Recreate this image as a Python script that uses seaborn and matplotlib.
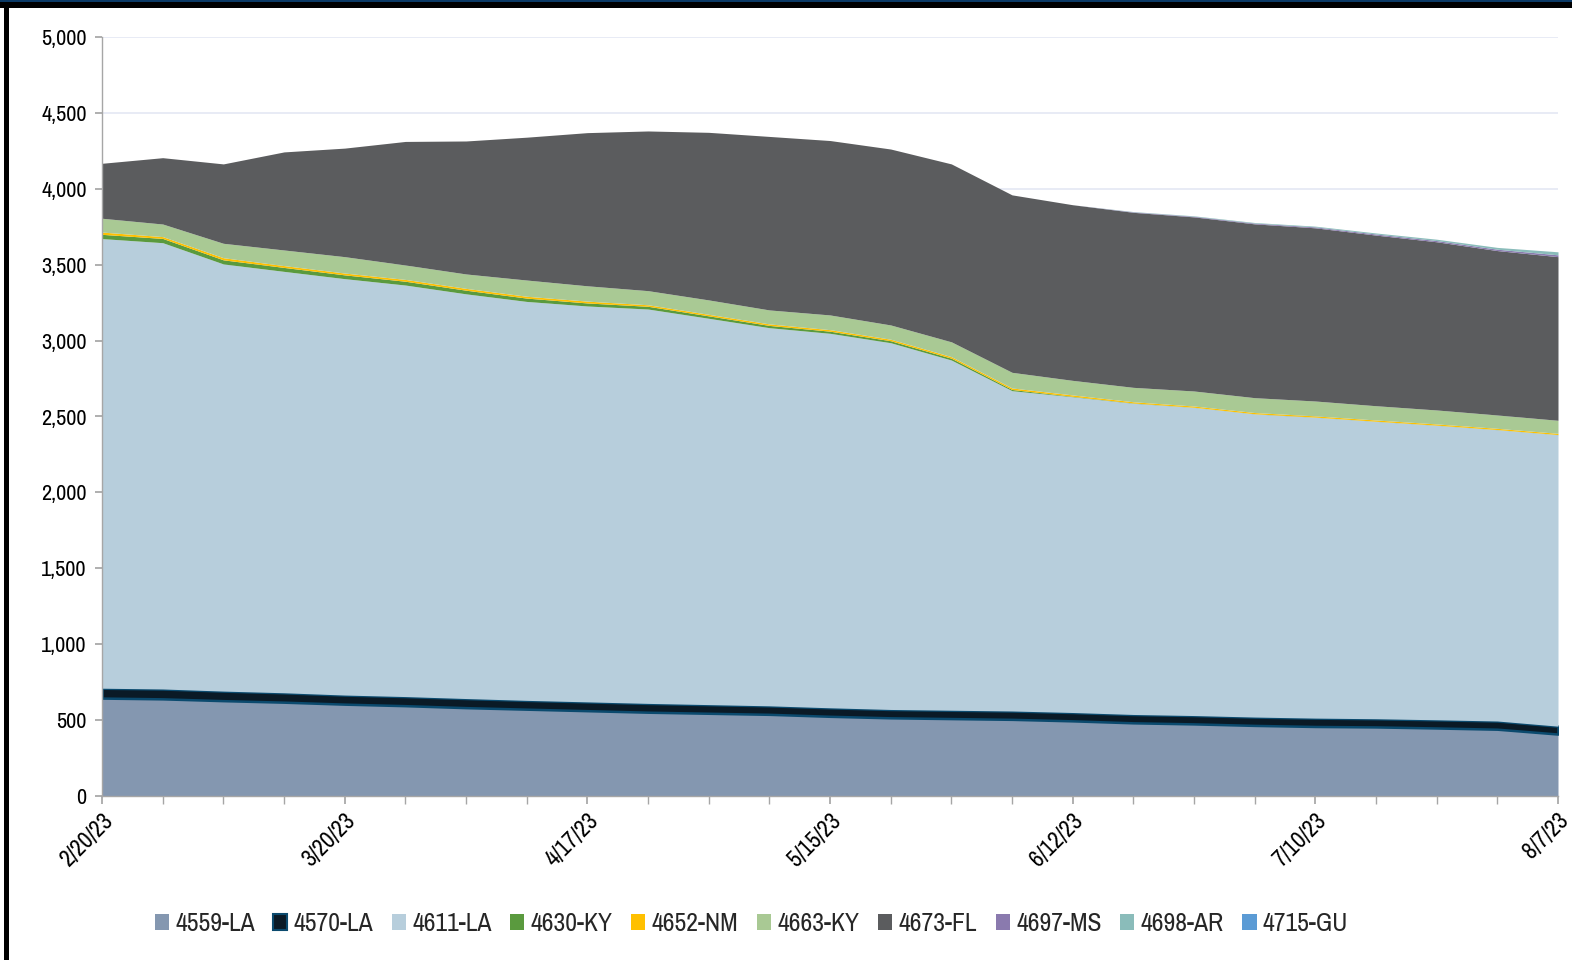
import matplotlib
matplotlib.use("Agg")
import matplotlib.pyplot as plt
import matplotlib.font_manager as fm
from matplotlib.patches import Rectangle, Patch
import seaborn as sns
import pandas as pd
import numpy as np

# ---------------- data ----------------
dates = pd.date_range("2023-02-20", periods=25, freq="7D")
tick_labels = ["2/20/23", "3/20/23", "4/17/23", "5/15/23", "6/12/23", "7/10/23", "8/7/23"]

s4559_LA = [645, 640, 628, 618, 605, 595, 582, 572, 562, 552, 545, 538, 525, 515, 510, 505, 495, 482, 475, 465, 458, 455, 448, 440, 408]
s4570_LA = [65, 65, 63, 62, 60, 60, 60, 58, 58, 58, 57, 56, 56, 55, 55, 55, 55, 55, 55, 55, 55, 54, 54, 54, 52]
s4611_LA = [2962, 2940, 2814, 2776, 2743, 2711, 2666, 2628, 2608, 2598, 2545, 2491, 2467, 2416, 2307, 2110, 2080, 2050, 2030, 1997, 1982, 1959, 1940, 1919, 1920]
s4630_KY = [28, 28, 27, 26, 25, 25, 24, 22, 20, 18, 16, 15, 14, 13, 12, 8, 3, 2, 1, 1, 1, 1, 1, 1, 1]
s4652_NM = [15, 12, 14, 12, 12, 12, 12, 12, 12, 10, 10, 10, 10, 10, 10, 10, 9, 8, 8, 8, 8, 8, 8, 8, 8]
s4663_KY = [91, 83, 95, 103, 108, 95, 95, 107, 101, 93, 95, 92, 97, 94, 98, 103, 96, 95, 99, 98, 98, 94, 92, 88, 86]
s4673_FL = [362, 437, 523, 646, 715, 814, 876, 941, 1009, 1052, 1104, 1143, 1149, 1159, 1172, 1169, 1157, 1153, 1147, 1145, 1141, 1124, 1108, 1083, 1078]
s4697_MS = [0, 0, 0, 0, 0, 0, 0, 0, 0, 0, 0, 0, 0, 0, 0, 0, 0, 3, 4, 5, 6, 7, 8, 9, 12]
s4698_AR = [0, 0, 0, 0, 0, 0, 0, 0, 0, 0, 0, 0, 0, 0, 0, 0, 0, 2, 3, 4, 5, 7, 9, 12, 20]
s4715_GU = [0] * 25

series_names = ["4559-LA", "4570-LA", "4611-LA", "4630-KY", "4652-NM", "4663-KY", "4673-FL", "4697-MS", "4698-AR", "4715-GU"]
series_values = [s4559_LA, s4570_LA, s4611_LA, s4630_KY, s4652_NM, s4663_KY, s4673_FL, s4697_MS, s4698_AR, s4715_GU]
colors = ["#8497B0", "#0A1A26", "#B7CEDC", "#5A9A3E", "#FFC000", "#A9C994", "#5B5C5E", "#8A7AAE", "#8ABCBA", "#5B9BD5"]

# ---------------- style ----------------
sns.set_theme(style="white")

cond_font = None
cond_stretch = None
for f in fm.fontManager.ttflist:
    if "Narrow" in f.name or "Condensed" in f.name:
        cond_font = f.name
        break
if cond_font is None:
    for f in fm.fontManager.ttflist:
        st = f.stretch
        if st in ("condensed", "semi-condensed", "extra-condensed", "ultra-condensed") or (isinstance(st, int) and st < 500):
            cond_font = f.name
            cond_stretch = "condensed"
            break

if cond_font is not None:
    plt.rcParams["font.family"] = [cond_font, "DejaVu Sans"]
    if cond_stretch:
        plt.rcParams["font.stretch"] = cond_stretch
    fs_ytick, fs_xtick, fs_leg = 16, 17, 18.5
    leg_spacing = 0.72
else:
    plt.rcParams["font.family"] = ["Roboto", "DejaVu Sans"]
    fs_ytick, fs_xtick, fs_leg = 14, 14, 15
    leg_spacing = 0.8

fig = plt.figure(figsize=(15.72, 9.6), dpi=100)
ax = fig.add_axes([102 / 1572, 1 - 796 / 960, (1558 - 102) / 1572, (796 - 37) / 960])

df = pd.DataFrame({n: v for n, v in zip(series_names, series_values)}, index=dates)

stack_polys = ax.stackplot(df.index, *[df[n].values for n in series_names],
                           colors=colors, linewidth=0, zorder=2)
stack_polys[1].set_edgecolor("#0B4A6E")
stack_polys[1].set_linewidth(1.8)

ax.set_xlim(dates[0], dates[-1])
ax.set_ylim(0, 5000)
ax.set_yticks(np.arange(0, 5001, 500))
ax.set_yticklabels([f"{v:,}" for v in range(0, 5001, 500)])
ax.yaxis.grid(True, color="#E4E8F4", linewidth=1.2, zorder=0)
ax.xaxis.grid(False)
ax.set_axisbelow(True)

ax.set_xticks(dates[::4])
ax.set_xticklabels(tick_labels, rotation=45, ha="right", rotation_mode="anchor")
ax.set_xticks(dates, minor=True)

for sp in ["top", "right"]:
    ax.spines[sp].set_visible(False)
for sp in ["left", "bottom"]:
    ax.spines[sp].set_color("#A6A6A6")
    ax.spines[sp].set_linewidth(1.0)
    ax.spines[sp].set_zorder(5)

ax.tick_params(axis="y", which="major", direction="out", length=5, color="#A6A6A6",
               labelsize=fs_ytick, labelcolor="black", pad=6, left=True)
ax.tick_params(axis="x", which="both", direction="out", length=6, color="#A6A6A6",
               labelsize=fs_xtick, labelcolor="black", pad=4, bottom=True)
ax.set_xlabel("")
ax.set_ylabel("")

handles = [Patch(facecolor=c, edgecolor=("#0B4A6E" if n == "4570-LA" else c), linewidth=(1.5 if n == "4570-LA" else 0))
           for n, c in zip(series_names, colors)]
fig.legend(handles, series_names, loc="center", bbox_to_anchor=(0.478, 0.038), ncol=10,
           frameon=False, fontsize=fs_leg, handlelength=0.55, handleheight=0.6,
           handletextpad=0.25, columnspacing=leg_spacing)

fig.patches.append(Rectangle((0, 1 - 8 / 960), 1, 8 / 960, transform=fig.transFigure,
                             facecolor="black", edgecolor="none", zorder=10))
fig.patches.append(Rectangle((0, 1 - 2 / 960), 1, 2 / 960, transform=fig.transFigure,
                             facecolor="#0B3A66", edgecolor="none", zorder=11))
fig.patches.append(Rectangle((4 / 1572, 0), 5 / 1572, 1, transform=fig.transFigure,
                             facecolor="black", edgecolor="none", zorder=10))

fig.savefig("out.png", dpi=100)
